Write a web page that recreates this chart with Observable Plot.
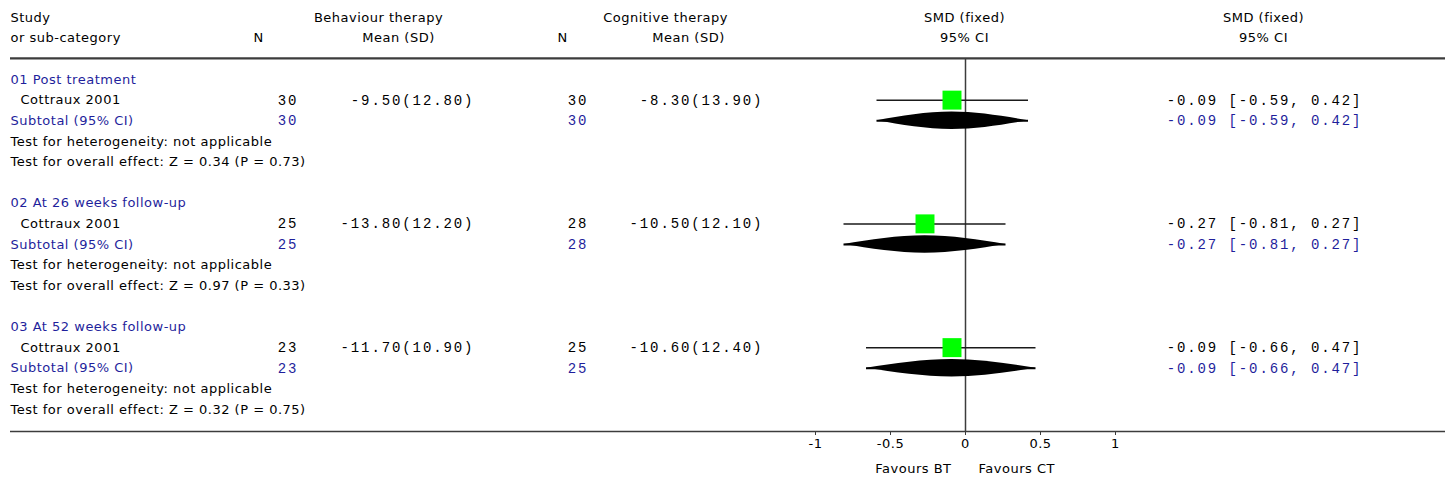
<!DOCTYPE html>
<html>
<head>
<meta charset="utf-8">
<script src="https://cdn.jsdelivr.net/npm/d3@7"></script>
<script src="https://cdn.jsdelivr.net/npm/@observablehq/plot@0.6"></script>
<style>
  html, body { margin: 0; padding: 0; background: white; }
  #chart svg { display: block; }
  #chart svg text { letter-spacing: 0.5px; }
  #chart svg g[font-family="Liberation Mono"] text { letter-spacing: 1.9px; }
</style>
</head>
<body>
<div id="chart"></div>
<script>
// ---- data ----
const groups = ["01 Post treatment", "02 At 26 weeks follow-up", "03 At 52 weeks follow-up"];
const studies = ["Cottraux 2001", "Cottraux 2001", "Cottraux 2001"];
const btN = [30, 25, 23];
const btMean = [-9.50, -13.80, -11.70];
const btSD = [12.80, 12.20, 10.90];
const ctN = [30, 28, 25];
const ctMean = [-8.30, -10.50, -10.60];
const ctSD = [13.90, 12.10, 12.40];
const smd = [-0.09, -0.27, -0.09];
const ciLo = [-0.59, -0.81, -0.66];
const ciHi = [0.42, 0.27, 0.47];
const heterogeneity = ["not applicable", "not applicable", "not applicable"];
const zValues = ["0.34", "0.97", "0.32"];
const pValues = ["0.73", "0.33", "0.75"];
const xTicks = [-1, -0.5, 0, 0.5, 1];
const leftLabel = "Favours BT";
const rightLabel = "Favours CT";

// ---- row layout (row index units) ----
const rowsPerGroup = 6;
const headerRow1 = -3, headerRow2 = -2, topRuleRow = -1.02, axisRow = 17.07, favoursRow = 18.86;

const BLUE = "#1f1f9c";
const fmt2 = v => v.toFixed(2);

const groupRows = groups.map((g, i) => ({y: i * rowsPerGroup, text: g}));
const studyRows = studies.map((s, i) => ({
  y: i * rowsPerGroup + 1, text: s,
  btN: String(btN[i]), btMS: `${fmt2(btMean[i])}(${fmt2(btSD[i])})`,
  ctN: String(ctN[i]), ctMS: `${fmt2(ctMean[i])}(${fmt2(ctSD[i])})`,
  est: smd[i], lo: ciLo[i], hi: ciHi[i],
  ci: `${fmt2(smd[i])} [${fmt2(ciLo[i])}, ${fmt2(ciHi[i])}]`
}));
const subRows = groups.map((g, i) => ({
  y: i * rowsPerGroup + 2, text: "Subtotal (95% CI)",
  btN: String(btN[i]), ctN: String(ctN[i]),
  est: smd[i], lo: ciLo[i], hi: ciHi[i], g: i,
  ci: `${fmt2(smd[i])} [${fmt2(ciLo[i])}, ${fmt2(ciHi[i])}]`
}));
const hetRows = groups.map((g, i) => ({y: i * rowsPerGroup + 3, text: `Test for heterogeneity: ${heterogeneity[i]}`}));
const overallRows = groups.map((g, i) => ({y: i * rowsPerGroup + 4, text: `Test for overall effect: Z = ${zValues[i]} (P = ${pValues[i]})`}));
const diamondHalf = 0.42;
const diamondPts = subRows.flatMap(d => [
  {g: d.g, x: d.lo, y1: d.y, y2: d.y},
  {g: d.g, x: d.est, y1: d.y - diamondHalf, y2: d.y + diamondHalf},
  {g: d.g, x: d.hi, y1: d.y, y2: d.y}
]);

const headers = [
  {y: headerRow1, text: "Study", dx: 0, anchor: "start"},
  {y: headerRow2, text: "or sub-category", dx: 0, anchor: "start"},
  {y: headerRow2, text: "N", dx: 248, anchor: "middle"},
  {y: headerRow1, text: "Behaviour therapy", dx: 368, anchor: "middle"},
  {y: headerRow2, text: "Mean (SD)", dx: 388, anchor: "middle"},
  {y: headerRow2, text: "N", dx: 552, anchor: "middle"},
  {y: headerRow1, text: "Cognitive therapy", dx: 655, anchor: "middle"},
  {y: headerRow2, text: "Mean (SD)", dx: 678, anchor: "middle"},
  {y: headerRow1, text: "SMD (fixed)", dx: 954, anchor: "middle"},
  {y: headerRow2, text: "95% CI", dx: 954, anchor: "middle"},
  {y: headerRow1, text: "SMD (fixed)", dx: 1253, anchor: "middle"},
  {y: headerRow2, text: "95% CI", dx: 1253, anchor: "middle"}
];

const SANS = "DejaVu Sans";
const MONO = "Liberation Mono";
const FS = 13;
const sansText = (data, opts) => Plot.text(data, {y: "y", text: "text", frameAnchor: "left", textAnchor: "start", fontFamily: SANS, fontSize: FS, ...opts});
const monoText = (data, field, dx, fill) => Plot.text(data, {y: "y", text: field, frameAnchor: "left", textAnchor: "end", dx, fontFamily: MONO, fontSize: 14, fill});

const chart = Plot.plot({
  width: 1452,
  height: 484,
  marginLeft: 10,
  marginRight: 7,
  marginTop: 0,
  marginBottom: 53,
  style: {fontFamily: SANS, fontSize: "13px", background: "white", color: "#000", overflow: "visible"},
  x: {domain: [-1, 1], range: [815, 1115]},
  y: {domain: [0, 16], range: [79, 409], axis: null},
  marks: [
    // header
    ...headers.map(h => Plot.text([h], {
      y: "y", text: "text", frameAnchor: "left", textAnchor: h.anchor, dx: h.dx,
      fontFamily: SANS, fontSize: FS
    })),
    Plot.ruleY([topRuleRow], {stroke: "#3c3c3c", strokeWidth: 2.2}),
    Plot.ruleY([axisRow], {stroke: "#3c3c3c", strokeWidth: 1.5}),
    Plot.ruleX([0], {y1: topRuleRow, y2: axisRow, stroke: "#3c3c3c", strokeWidth: 1.5}),
    Plot.axisX({ticks: xTicks, tickFormat: d => String(d), tickSize: 4, tickPadding: 3, fontSize: FS, label: null, stroke: "#3c3c3c"}),
    // left text
    sansText(groupRows, {fill: BLUE}),
    sansText(studyRows, {dx: 10}),
    sansText(subRows, {fill: BLUE}),
    sansText(hetRows, {}),
    sansText(overallRows, {}),
    // numeric columns
    monoText(studyRows, "btN", 287.9, "#000"),
    monoText(subRows, "btN", 287.9, BLUE),
    monoText(studyRows, "btMS", 463.9, "#000"),
    monoText(studyRows, "ctN", 577.9, "#000"),
    monoText(subRows, "ctN", 577.9, BLUE),
    monoText(studyRows, "ctMS", 752.9, "#000"),
    monoText(studyRows, "ci", 1351.9, "#000"),
    monoText(subRows, "ci", 1351.9, BLUE),
    // forest marks
    Plot.ruleY(studyRows, {y: "y", x1: "lo", x2: "hi", stroke: "#1a1a1a", strokeWidth: 1.5}),
    Plot.dot(studyRows, {x: "est", y: "y", symbol: "square", r: 10.7, fill: "#00ff00", stroke: "none"}),
    Plot.ruleY(subRows, {y: "y", x1: "lo", x2: "hi", stroke: "#000", strokeWidth: 2}),
    Plot.areaY(diamondPts, {x: "x", y1: "y1", y2: "y2", z: "g", fill: "#000", curve: "natural"}),
    // favours labels
    Plot.text([leftLabel], {x: 0, y: favoursRow, text: d => d, textAnchor: "end", dx: -14, fontFamily: SANS, fontSize: FS}),
    Plot.text([rightLabel], {x: 0, y: favoursRow, text: d => d, textAnchor: "start", dx: 13, fontFamily: SANS, fontSize: FS})
  ]
});
document.getElementById("chart").append(chart);
</script>
</body>
</html>
